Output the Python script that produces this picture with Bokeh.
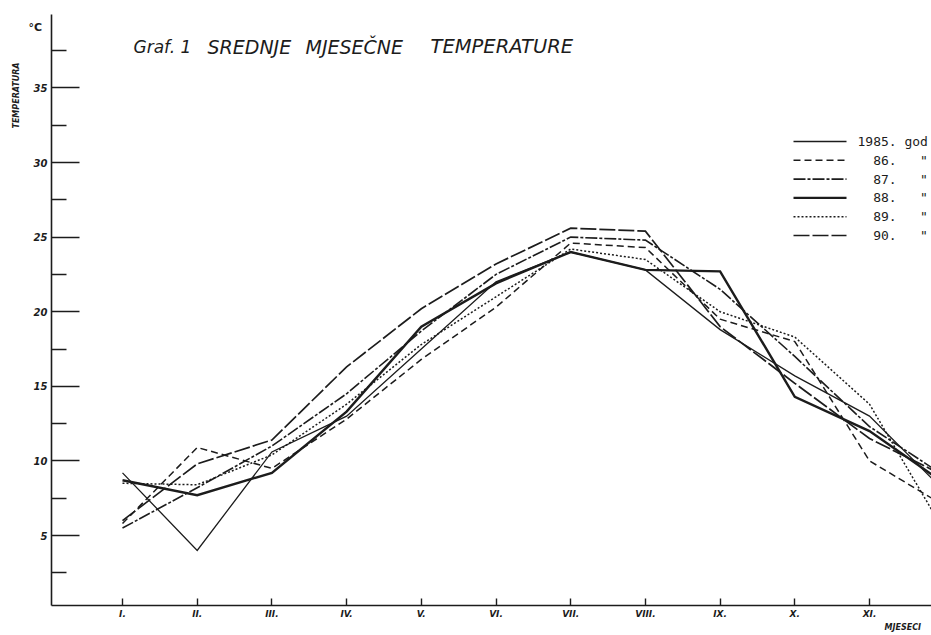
from bokeh.plotting import figure
from bokeh.models import FixedTicker, Label, Range1d
from bokeh.core.properties import value
from bokeh.embed import file_html
from bokeh.resources import INLINE

months = [1, 2, 3, 4, 5, 6, 7, 8, 9, 10, 11, 12]
month_labels = ["I.", "II.", "III.", "IV.", "V.", "VI.", "VII.", "VIII.", "IX.", "X.", "XI.", "XII."]

t1985 = [9.2, 4.0, 10.6, 13.0, 17.5, 22.0, 24.0, 22.8, 18.8, 15.7, 13.0, 8.0]
t1986 = [5.8, 10.9, 9.5, 12.8, 16.8, 20.3, 24.6, 24.3, 19.5, 18.0, 10.0, 7.0]
t1987 = [5.5, 8.2, 11.0, 14.5, 18.7, 22.5, 25.0, 24.8, 21.5, 17.0, 12.3, 9.0]
t1988 = [8.7, 7.7, 9.2, 13.3, 19.0, 21.9, 24.0, 22.8, 22.7, 14.3, 12.0, 8.5]
t1989 = [8.5, 8.4, 10.4, 13.8, 17.8, 21.0, 24.2, 23.5, 20.0, 18.3, 13.8, 5.3]
t1990 = [6.0, 9.8, 11.4, 16.3, 20.2, 23.2, 25.6, 25.4, 19.0, 15.2, 11.5, 9.0]

series = [t1985, t1986, t1987, t1988, t1989, t1990]
legend_labels = ["1985.\u00a0god", "\u00a0\u00a086.\u00a0\u00a0\u00a0\"", "\u00a0\u00a087.\u00a0\u00a0\u00a0\"",
                 "\u00a0\u00a088.\u00a0\u00a0\u00a0\"", "\u00a0\u00a089.\u00a0\u00a0\u00a0\"", "\u00a0\u00a090.\u00a0\u00a0\u00a0\""]
y_ticks = [5, 10, 15, 20, 25, 30, 35]
y_minor = [2.5, 7.5, 12.5, 17.5, 22.5, 27.5, 32.5, 37.5]

styles = [
    dict(line_width=1.3, line_dash="solid"),
    dict(line_width=1.5, line_dash="7 4"),
    dict(line_width=1.6, line_dash="12 2 3 2"),
    dict(line_width=2.4, line_dash="solid"),
    dict(line_width=1.5, line_dash="2 2"),
    dict(line_width=1.7, line_dash="16 3"),
]
INK = "#1c1c1c"

W, H = 931, 635

# page pixel -> data helpers for layout
def dx(px):
    return 1 + (px - 122) / 74.7

def dy(py):
    return (609.6 - py) / 14.92

p = figure(width=W, height=H, output_backend="svg", toolbar_location=None,
           x_range=Range1d(dx(0), dx(W)), y_range=Range1d(dy(H), dy(0)),
           min_border_left=0, min_border_right=0, min_border_top=0, min_border_bottom=0)
p.outline_line_color = None
p.grid.visible = False
p.background_fill_color = "white"

p.xaxis.fixed_location = dy(605)
p.xaxis.bounds = (dx(51), dx(W))
p.xaxis.ticker = FixedTicker(ticks=months)
p.xaxis.major_label_overrides = {m: lab for m, lab in zip(months, month_labels)}
p.xaxis.major_tick_in = 7
p.xaxis.major_tick_out = 0
p.xaxis.minor_tick_line_color = None
p.xaxis.major_label_standoff = 3
p.xaxis.major_label_text_font = "DejaVu Sans"
p.xaxis.major_label_text_font_style = "bold italic"
p.xaxis.major_label_text_font_size = "9px"

p.yaxis.fixed_location = dx(51)
p.yaxis.bounds = (dy(605), dy(14))
p.yaxis.ticker = FixedTicker(ticks=y_ticks, minor_ticks=y_minor)
p.yaxis.major_tick_in = 28
p.yaxis.major_tick_out = 0
p.yaxis.minor_tick_in = 15
p.yaxis.minor_tick_out = 0
p.yaxis.major_label_standoff = 4
p.yaxis.major_label_text_font = "DejaVu Sans"
p.yaxis.major_label_text_font_style = "bold italic"
p.yaxis.major_label_text_font_size = "10px"

for ax in (p.xaxis, p.yaxis):
    ax.axis_line_width = 1.6
    ax.axis_line_color = INK
    ax.major_tick_line_color = INK
    ax.major_tick_line_width = 1.4
    ax.minor_tick_line_width = 1.4
    ax.minor_tick_line_color = INK
    ax.major_label_text_color = INK

for vals, st in zip(series, styles):
    p.line(months, vals, line_color=INK, line_join="miter", **st)

# legend (hand-drawn, like the original)
leg_y0 = 141
leg_step = 18.8
for i, (lab, st) in enumerate(zip(legend_labels, styles)):
    yy = dy(leg_y0 + i * leg_step)
    p.segment(x0=[dx(793)], y0=[yy], x1=[dx(846)], y1=[yy], line_color=INK, **st)
    p.text(x=[dx(857)], y=[yy], text=[lab], text_font=value("DejaVu Sans Mono"),
           text_font_size="13px", text_baseline="middle", text_align="left", text_color=INK)

# title
title_words = ["Graf. 1", "SREDNJE", "MJESEČNE", "TEMPERATURE"]
title_x = [133, 207, 305, 430]
title_size = ["17px", "19px", "19px", "19.5px"]
for w, xx, fs in zip(title_words, title_x, title_size):
    p.add_layout(Label(x=dx(xx), y=dy(46), text=w, text_font="DejaVu Sans", text_font_style="italic",
                       text_font_size=fs, text_baseline="middle", text_align="left", text_color=INK))

p.add_layout(Label(x=dx(28), y=dy(27), text="°C", text_font="DejaVu Sans", text_font_style="bold",
                   text_font_size="11px", text_baseline="middle", text_align="left", text_color=INK))
p.add_layout(Label(x=dx(16), y=dy(95), text="TEMPERATURA", angle=1.5708, text_font="DejaVu Sans",
                   text_font_style="bold italic", text_font_size="8px", text_baseline="middle",
                   text_align="center", text_color=INK))
p.add_layout(Label(x=dx(884), y=dy(627), text="MJESECI", text_font="DejaVu Sans",
                   text_font_style="bold italic", text_font_size="8px", text_baseline="middle",
                   text_align="left", text_color=INK))

open("out.html", "w").write(file_html(p, INLINE))
